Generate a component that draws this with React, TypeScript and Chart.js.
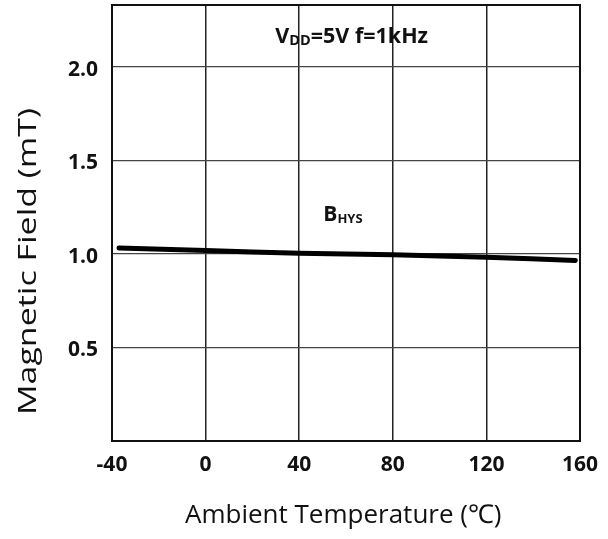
import React, { useEffect, useRef } from "react";
import { Chart, registerables } from "chart.js";

Chart.register(...registerables);

const temperatures = [-37, 0, 40, 80, 120, 158];
const bhys = [1.032, 1.018, 1.003, 0.995, 0.982, 0.965];
const xTicks = [-40, 0, 40, 80, 120, 160];
const yTicks = [0.5, 1.0, 1.5, 2.0];
const xTitle = "Ambient Temperature (\u2103)";
const yTitle = "Magnetic Field (mT)";
const condMain = "V";
const condSub = "DD";
const condRest = "=5V f=1kHz";
const curveMain = "B";
const curveSub = "HYS";

const FONT = "'Open Sans', 'Noto Sans', 'DejaVu Sans', sans-serif";

const decorPlugin = {
  id: "decor",
  afterDraw(chart: any) {
    const { ctx, chartArea } = chart;
    ctx.save();
    ctx.strokeStyle = "#111";
    ctx.lineWidth = 2;
    ctx.strokeRect(chartArea.left, chartArea.top, chartArea.right - chartArea.left, chartArea.bottom - chartArea.top);

    ctx.fillStyle = "#111";
    // x axis title
    ctx.font = `26px ${FONT}`;
    ctx.textAlign = "left";
    ctx.textBaseline = "alphabetic";
    ctx.fillText(xTitle, 185, 523);
    // y axis title (stretched along its length)
    ctx.save();
    ctx.font = `25px ${FONT}`;
    const w = ctx.measureText(yTitle).width;
    const stretch = 307 / w;
    ctx.translate(35.5, 415);
    ctx.rotate(-Math.PI / 2);
    ctx.scale(stretch, 1);
    ctx.fillText(yTitle, 0, 0);
    ctx.restore();

    // annotations
    const xs = chart.scales.x;
    const ys = chart.scales.y;
    const drawSub = (main: string, sub: string, rest: string, x: number, y: number, big: number, small: number) => {
      ctx.textAlign = "left";
      ctx.textBaseline = "alphabetic";
      ctx.font = `bold ${big}px ${FONT}`;
      ctx.fillText(main, x, y);
      let cx = x + ctx.measureText(main).width;
      ctx.font = `bold ${small}px ${FONT}`;
      ctx.fillText(sub, cx, y + 2);
      cx += ctx.measureText(sub).width;
      if (rest) {
        ctx.font = `bold ${big}px ${FONT}`;
        ctx.fillText(rest, cx, y);
      }
    };
    drawSub(condMain, condSub, condRest, xs.getPixelForValue(29.8), ys.getPixelForValue(2.125), 21.5, 14.5);
    drawSub(curveMain, curveSub, "", xs.getPixelForValue(50.3), ys.getPixelForValue(1.176), 21, 13);
    ctx.restore();
  },
};

export default function App() {
  const ref = useRef<HTMLCanvasElement>(null);
  useEffect(() => {
    document.body.style.margin = "0";
    const chart = new Chart(ref.current!, {
      type: "line",
      data: {
        datasets: [
          {
            data: temperatures.map((t, i) => ({ x: t, y: bhys[i] })),
            borderColor: "#000",
            borderWidth: 5,
            pointRadius: 0,
            tension: 0.3,
            borderCapStyle: "round",
            fill: false,
          },
        ],
      },
      options: {
        animation: false,
        responsive: false,
        maintainAspectRatio: false,
        layout: { padding: { top: 5, right: 28, left: 0, bottom: 0 } },
        plugins: { legend: { display: false }, tooltip: { enabled: false } },
        scales: {
          x: {
            type: "linear",
            min: -40,
            max: 160,
            afterBuildTicks: (s: any) => {
              s.ticks = xTicks.map((v) => ({ value: v }));
            },
            afterFit: (s: any) => {
              s.height = 98;
              s.paddingLeft = 0;
              s.paddingRight = 0;
            },
            grid: { color: "#222", lineWidth: 1.5, drawTicks: false },
            border: { display: true, color: "#111", width: 2 },
            ticks: {
              padding: 11,
              color: "#111",
              font: { family: FONT, size: 21, weight: "bold" },
              maxRotation: 0,
              autoSkip: false,
            },
          },
          y: {
            type: "linear",
            min: 0,
            max: 2.33,
            afterBuildTicks: (s: any) => {
              s.ticks = yTicks.map((v) => ({ value: v }));
            },
            afterFit: (s: any) => {
              s.width = 112;
              s.paddingTop = 0;
              s.paddingBottom = 0;
            },
            grid: { color: "#444", lineWidth: 1.2, drawTicks: false },
            border: { display: true, color: "#111", width: 2 },
            ticks: {
              padding: 14,
              labelOffset: 3,
              color: "#111",
              font: { family: FONT, size: 21, weight: "bold" },
              callback: (v: any) => Number(v).toFixed(1),
              autoSkip: false,
            },
          },
        },
      },
      plugins: [decorPlugin],
    } as any);
    return () => chart.destroy();
  }, []);
  return (
    <div style={{ width: 608, height: 539, background: "#fff" }}>
      <canvas ref={ref} width={608} height={539} style={{ display: "block" }} />
    </div>
  );
}
